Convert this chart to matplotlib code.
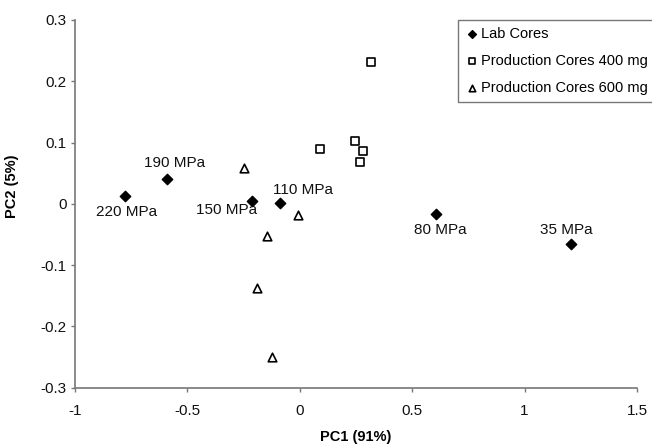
import matplotlib
matplotlib.use("Agg")
import matplotlib.pyplot as plt

plt.rcParams['font.family'] = ['Liberation Sans', 'DejaVu Sans']

# Lab cores (compaction pressure labels)
lab_x = [-0.777, -0.590, -0.211, -0.088, 0.606, 1.207]
lab_y = [0.012, 0.041, 0.005, 0.002, -0.017, -0.065]
lab_labels = ['220 MPa', '190 MPa', '150 MPa', '110 MPa', '80 MPa', '35 MPa']

# Production cores 400 mg
p400_x = [0.090, 0.316, 0.246, 0.279, 0.266]
p400_y = [0.089, 0.231, 0.103, 0.086, 0.069]

# Production cores 600 mg
p600_x = [-0.248, -0.006, -0.144, -0.189, -0.125]
p600_y = [0.058, -0.019, -0.053, -0.137, -0.250]

# label offsets in points (dx, dy)
offsets = [(1, -11), (5, 11.5), (-18.5, -7), (16.5, 9), (3, -11), (-3.4, 10)]

fig = plt.figure(figsize=(6.52, 4.47), dpi=100)
ax = fig.add_axes([0.115, 0.1327, 0.862, 0.8226])

ax.scatter(lab_x, lab_y, marker='D', s=28, color='black', label='Lab Cores', zorder=3)
ax.scatter(p400_x, p400_y, marker='s', s=30, facecolor='white', edgecolor='black',
           linewidth=1.2, label='Production Cores 400 mg', zorder=3)
ax.scatter(p600_x, p600_y, marker='^', s=38, facecolor='white', edgecolor='black',
           linewidth=1.2, label='Production Cores 600 mg', zorder=3)

for x, y, t, off in zip(lab_x, lab_y, lab_labels, offsets):
    ax.annotate(t, (x, y), xytext=off, textcoords='offset points',
                ha='center', va='center', fontsize=11, color='#111111')

ax.set_xlim(-1, 1.5)
ax.set_ylim(-0.3, 0.3)
ax.set_xticks([-1, -0.5, 0, 0.5, 1, 1.5])
ax.set_xticklabels(['-1', '-0.5', '0', '0.5', '1', '1.5'])
ax.set_yticks([-0.3, -0.2, -0.1, 0, 0.1, 0.2, 0.3])
ax.set_yticklabels(['-0.3', '-0.2', '-0.1', '0', '0.1', '0.2', '0.3'])
ax.tick_params(labelsize=11, length=3, width=1, color='#777777', labelcolor='#111111')
ax.tick_params(axis='x', pad=9)
ax.tick_params(axis='y', pad=3)

for s in ['top', 'right']:
    ax.spines[s].set_visible(False)
for s in ['left', 'bottom']:
    ax.spines[s].set_color('#777777')
    ax.spines[s].set_linewidth(1.2)

ax.set_xlabel('PC1 (91%)', fontweight='bold', fontsize=10.5)
ax.set_ylabel('PC2 (5%)', fontweight='bold', fontsize=10.5)
ax.xaxis.set_label_coords(0.5, -0.115)
ax.yaxis.set_label_coords(-0.1, 0.549)

leg = ax.legend(loc='upper left', bbox_to_anchor=(0.682, 1.0), fontsize=10.5,
                frameon=True, fancybox=False, handletextpad=0.15, handlelength=0.9,
                borderpad=0.5, labelspacing=0.87, borderaxespad=0, markerscale=0.75)
leg.get_frame().set_edgecolor('#555555')
leg.get_frame().set_linewidth(1)

fig.savefig('out.png', dpi=100)
